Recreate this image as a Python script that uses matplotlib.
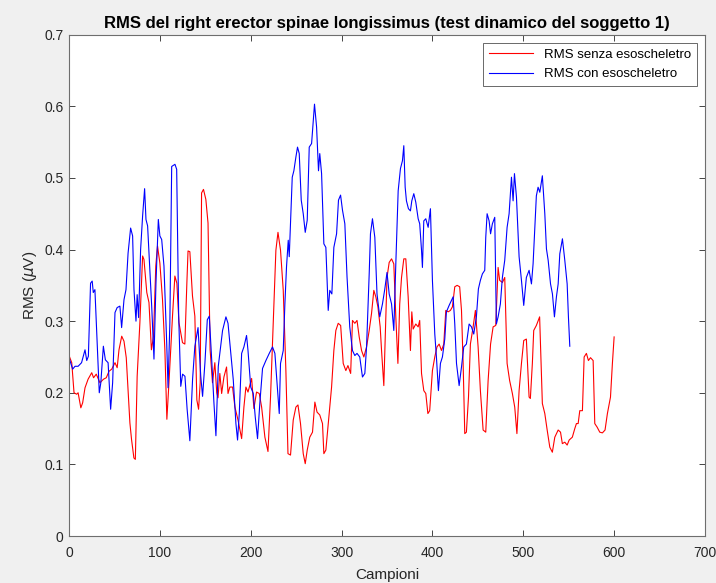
import matplotlib
matplotlib.use('Agg')
import matplotlib.pyplot as plt

## Values (sample index, RMS in uV)
red_x = [0, 3, 5.5, 8.4, 10, 13, 15, 17.6, 21, 25, 27, 30, 34, 38, 41, 44, 47, 50.6, 53, 55, 58, 60.5, 63,
         67, 68.8, 71.4, 73, 75, 78, 81, 82.5, 85.6, 88, 90.7, 93, 95.5, 97.4, 100, 102.9, 105.5, 107.7,
         110, 113.9, 116.5, 118.7, 121, 124.9, 127.5, 129.7, 131, 133, 135.9, 138.5, 140.7, 142.6, 144.4,
         145.9, 148, 150.6, 153, 155.3, 157.9, 160.5, 162.6, 164, 166, 168, 170.5, 173.4, 175, 177, 180,
         182.6, 186, 190, 192.5, 194.7, 197, 201, 203.5, 206.4, 209.4, 212, 215.6, 219, 221.8, 224.8,
         227.7, 230, 232.8, 235.8, 238.7, 241, 243.8, 246.8, 249.7, 252, 254.8, 257.8, 260, 262.2, 265,
         268, 270.6, 273, 276, 279, 280.5, 282.7, 285, 289, 291.5, 293.7, 296.3, 299, 301.8, 304.7, 307,
         310, 312, 314.6, 317, 319.4, 322, 324.5, 327.5, 330.4, 333, 335.5, 337.7, 340, 342.5, 344, 346.5,
         348.7, 350, 352.4, 355, 357.5, 359.7, 362, 364, 366, 368.5, 370.7, 373.3, 375.8, 377.3, 378.8,
         381.7, 384.3, 386, 388, 390.5, 392.7, 395, 397, 400, 402.6, 405, 407.4, 410, 412.5, 414.7, 417.3,
         419.8, 422, 424.6, 427.2, 430, 432, 433.8, 435.6, 437.4, 439.7, 441.8, 444.8, 447.3, 450.3, 452.8,
         455.8, 458.7, 461.3, 464, 466.8, 469.7, 472.3, 474, 477, 479.6, 482.2, 485, 488, 490.6, 493,
         495.4, 498, 500.5, 503.4, 506.4, 507.8, 510, 511.5, 514.4, 518, 521, 523.7, 526.3, 529.2, 532,
         534.7, 538.4, 541, 543, 545.7, 548.3, 550.5, 554, 556.7, 558.5, 560.4, 562.2, 565.1, 567, 569.5,
         571.7, 574, 576.9, 578.7, 581.3, 584.2, 587.1, 590, 592.6, 596, 598.1, 600]
red_y = [0.252, 0.242, 0.200, 0.198, 0.200, 0.179, 0.186, 0.207, 0.219, 0.228, 0.221, 0.226, 0.214, 0.219,
         0.221, 0.230, 0.233, 0.242, 0.235, 0.260, 0.279, 0.272, 0.249, 0.158, 0.135, 0.109, 0.107, 0.223,
         0.298, 0.391, 0.386, 0.340, 0.326, 0.260, 0.279, 0.377, 0.405, 0.381, 0.330, 0.260, 0.163, 0.214,
         0.307, 0.363, 0.353, 0.298, 0.270, 0.268, 0.353, 0.398, 0.397, 0.335, 0.307, 0.190, 0.177, 0.214,
         0.479, 0.484, 0.470, 0.437, 0.260, 0.214, 0.242, 0.200, 0.193, 0.227, 0.199, 0.222, 0.236, 0.199,
         0.208, 0.208, 0.180, 0.162, 0.136, 0.180, 0.208, 0.201, 0.220, 0.178, 0.201, 0.199, 0.180, 0.138,
         0.118, 0.194, 0.297, 0.399, 0.424, 0.399, 0.343, 0.231, 0.115, 0.113, 0.162, 0.180, 0.183, 0.157,
         0.115, 0.101, 0.120, 0.138, 0.145, 0.187, 0.173, 0.169, 0.157, 0.115, 0.120, 0.152, 0.208, 0.259,
         0.287, 0.297, 0.294, 0.241, 0.231, 0.238, 0.227, 0.301, 0.297, 0.301, 0.278, 0.259, 0.250, 0.264,
         0.287, 0.311, 0.343, 0.334, 0.320, 0.292, 0.259, 0.210, 0.306, 0.361, 0.382, 0.387, 0.380, 0.306,
         0.241, 0.324, 0.361, 0.387, 0.387, 0.334, 0.259, 0.313, 0.289, 0.296, 0.292, 0.301, 0.227, 0.203,
         0.199, 0.171, 0.175, 0.231, 0.250, 0.264, 0.268, 0.259, 0.268, 0.315, 0.313, 0.315, 0.320, 0.348,
         0.350, 0.348, 0.315, 0.241, 0.143, 0.145, 0.194, 0.268, 0.292, 0.315, 0.264, 0.203, 0.148, 0.145,
         0.217, 0.268, 0.292, 0.294, 0.375, 0.357, 0.354, 0.361, 0.241, 0.217, 0.199, 0.180, 0.143, 0.203,
         0.241, 0.273, 0.275, 0.194, 0.192, 0.241, 0.287, 0.294, 0.306, 0.185, 0.171, 0.148, 0.124, 0.117,
         0.138, 0.148, 0.145, 0.129, 0.131, 0.127, 0.134, 0.138, 0.150, 0.157, 0.157, 0.175, 0.175, 0.250,
         0.255, 0.245, 0.249, 0.245, 0.157, 0.152, 0.145, 0.144, 0.148, 0.171, 0.194, 0.241, 0.278]

blue_x = [0, 4, 6.6, 10, 13.8, 17.6, 19.5, 21.3, 23.7, 25.5, 26.7, 28.5, 31, 33.3, 35, 37.8, 40, 43, 45.8,
          48, 50.6, 53, 56, 57.9, 60.5, 62.7, 65, 67.8, 70, 71.5, 73.7, 75, 76.6, 78.8, 81, 83.2, 84.7,
          86.5, 89.1, 91, 93.5, 95.7, 98.3, 100, 102, 104.5, 107.5, 109, 111, 113, 116.6, 118.5, 120.7, 123,
          125, 127.6, 130, 133, 136, 138.5, 142, 145, 147, 149.6, 152.2, 154.4, 157, 159.5, 161.7, 164.3,
          169, 172.7, 175, 177.8, 180.8, 183.7, 185.5, 187.4, 190, 192.5, 195.4, 197, 200, 202.8, 205,
          207.5, 210, 213, 216.7, 220.4, 224, 226.6, 229, 231.4, 232.8, 235.8, 237.6, 239.4, 241.3, 242.4,
          243.8, 245.7, 247.5, 249.7, 251.5, 253.4, 255.6, 257.8, 260, 262.2, 264.4, 267, 268.8, 270.2,
          272.5, 274.6, 276, 278, 280.5, 282.7, 285.3, 287, 289.3, 291.5, 294.5, 296.6, 298.9, 301, 303.6,
          306, 309, 312, 314.6, 317, 320, 323, 325.6, 327.5, 330.4, 331.8, 334, 336.6, 339, 342, 345, 347.6,
          350, 352.4, 355, 357.5, 359.7, 362.3, 364.8, 367, 368.5, 370, 371.4, 373.6, 375.8, 377.3, 379.5,
          381.7, 384.3, 386, 388, 389, 390.5, 392.7, 395.3, 397.8, 400, 402.6, 404.4, 406.6, 408.8, 411,
          413.6, 415.4, 418.4, 421, 422.8, 424.6, 426.5, 429.4, 432, 434.5, 437.4, 440.4, 443, 445.5, 448.4,
          450.6, 452.8, 455, 457.6, 458.7, 460.2, 462.4, 464, 466, 468.6, 470.4, 472.3, 474.8, 477, 479.6,
          482.2, 484.4, 487, 488.8, 490.3, 492.5, 495.4, 498, 500.5, 503.4, 506.4, 509, 510.8, 512.6, 514.4,
          516.3, 518.2, 521, 523.7, 525.5, 527.4, 530, 532.1, 534.3, 536.5, 538.4, 540.2, 543.1, 545.7,
          548.3, 549.7, 551.2]
blue_y = [0.249, 0.233, 0.237, 0.237, 0.242, 0.260, 0.245, 0.251, 0.353, 0.356, 0.340, 0.344, 0.270, 0.200,
          0.214, 0.265, 0.246, 0.242, 0.177, 0.214, 0.312, 0.319, 0.321, 0.291, 0.330, 0.344, 0.395, 0.430,
          0.419, 0.344, 0.300, 0.337, 0.305, 0.400, 0.447, 0.485, 0.442, 0.433, 0.367, 0.321, 0.247, 0.353,
          0.442, 0.419, 0.414, 0.377, 0.270, 0.207, 0.298, 0.516, 0.519, 0.512, 0.307, 0.209, 0.226, 0.223,
          0.177, 0.133, 0.219, 0.265, 0.291, 0.223, 0.195, 0.242, 0.302, 0.307, 0.247, 0.186, 0.140, 0.237,
          0.287, 0.306, 0.297, 0.259, 0.218, 0.157, 0.134, 0.171, 0.255, 0.264, 0.280, 0.259, 0.208, 0.199,
          0.166, 0.136, 0.185, 0.234, 0.245, 0.255, 0.264, 0.255, 0.213, 0.171, 0.241, 0.259, 0.324, 0.376,
          0.413, 0.390, 0.436, 0.501, 0.510, 0.529, 0.543, 0.534, 0.469, 0.450, 0.424, 0.441, 0.543, 0.548,
          0.580, 0.603, 0.571, 0.510, 0.534, 0.506, 0.408, 0.403, 0.315, 0.343, 0.338, 0.403, 0.422, 0.469,
          0.476, 0.455, 0.436, 0.362, 0.292, 0.259, 0.252, 0.255, 0.250, 0.222, 0.227, 0.264, 0.366, 0.422,
          0.443, 0.417, 0.338, 0.306, 0.324, 0.345, 0.368, 0.338, 0.324, 0.287, 0.380, 0.482, 0.513, 0.524,
          0.545, 0.487, 0.468, 0.457, 0.454, 0.468, 0.478, 0.466, 0.443, 0.436, 0.399, 0.375, 0.440, 0.443,
          0.431, 0.457, 0.357, 0.282, 0.250, 0.203, 0.241, 0.250, 0.275, 0.313, 0.322, 0.329, 0.334, 0.296,
          0.241, 0.210, 0.236, 0.264, 0.268, 0.296, 0.292, 0.282, 0.306, 0.345, 0.357, 0.366, 0.371, 0.417,
          0.450, 0.440, 0.422, 0.436, 0.445, 0.296, 0.306, 0.324, 0.361, 0.385, 0.431, 0.450, 0.501, 0.468,
          0.506, 0.473, 0.390, 0.357, 0.322, 0.361, 0.371, 0.352, 0.380, 0.426, 0.475, 0.487, 0.480, 0.503,
          0.450, 0.401, 0.385, 0.352, 0.338, 0.306, 0.334, 0.352, 0.394, 0.415, 0.385, 0.352, 0.306, 0.265]

labels = ['RMS senza esoscheletro', 'RMS con esoscheletro']

## MATLAB-like look
plt.rcParams['font.family'] = ['Liberation Sans', 'DejaVu Sans']
plt.rcParams['mathtext.fontset'] = 'dejavusans'
dark = '#262626'

fig = plt.figure(figsize=(7.16, 5.83), dpi=100, facecolor='#f0f0f0')
ax = fig.add_axes([0.0964, 0.0806, 0.8882, 0.8599])
ax.plot(red_x, red_y, color='r', lw=0.8, label=labels[0])
ax.plot(blue_x, blue_y, color='b', lw=0.8, label=labels[1])

ax.set_xlim(0, 700)
ax.set_ylim(0, 0.7)
ax.set_xticks(range(0, 701, 100))
ax.set_yticks([0, 0.1, 0.2, 0.3, 0.4, 0.5, 0.6, 0.7])
ax.set_yticklabels(['0', '0.1', '0.2', '0.3', '0.4', '0.5', '0.6', '0.7'])
ax.tick_params(direction='in', top=True, right=True, length=4, width=0.6,
               colors=dark, labelsize=10, labelcolor=dark)
ax.tick_params(axis='x', pad=7)
ax.tick_params(axis='y', pad=4)
for s in ax.spines.values():
    s.set_color('#6e6e6e')
    s.set_linewidth(0.8)

ax.set_title('RMS del right erector spinae longissimus (test dinamico del soggetto 1)',
             fontsize=12, fontweight='bold', color='black', pad=5)
ax.set_xlabel('Campioni', fontsize=11, color=dark, labelpad=6)
ax.set_ylabel(r'RMS ($\mu$V)', fontsize=11, color=dark, labelpad=4)

leg = ax.legend(loc='upper right', fontsize=9.5, frameon=True, fancybox=False,
                borderaxespad=0.6, handlelength=3.4, labelspacing=0.55, borderpad=0.45)
leg.get_frame().set_edgecolor(dark)
leg.get_frame().set_linewidth(0.6)

fig.savefig('out.png', dpi=100, facecolor=fig.get_facecolor())
